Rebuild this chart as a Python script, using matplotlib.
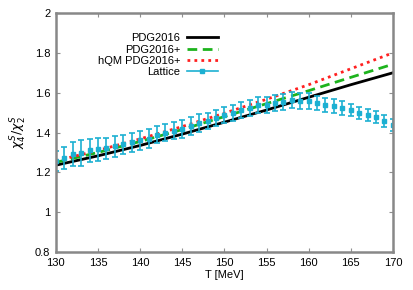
import matplotlib.pyplot as plt
from matplotlib.lines import Line2D

# theory curves (HRG)
T_hrg = [130, 135, 140, 145, 150, 155, 160, 165, 170]
pdg2016 = [1.236, 1.283, 1.335, 1.392, 1.452, 1.513, 1.577, 1.640, 1.700]
pdg2016p = [1.250, 1.300, 1.355, 1.415, 1.480, 1.545, 1.610, 1.677, 1.743]
hqm = [1.258, 1.310, 1.368, 1.430, 1.497, 1.567, 1.640, 1.720, 1.800]

# lattice data
T_lat = list(range(130, 171))
lat = [1.257, 1.273, 1.290, 1.298, 1.310, 1.315, 1.320, 1.330, 1.340, 1.350,
       1.360, 1.370, 1.390, 1.400, 1.410, 1.420, 1.435, 1.450, 1.460, 1.475,
       1.490, 1.500, 1.515, 1.525, 1.540, 1.540, 1.548, 1.555, 1.565, 1.560,
       1.557, 1.548, 1.540, 1.535, 1.523, 1.515, 1.500, 1.490, 1.477, 1.460,
       1.440]
lat_err = [0.05, 0.055, 0.06, 0.065, 0.06, 0.06, 0.055, 0.055, 0.05, 0.05,
           0.05, 0.05, 0.045, 0.045, 0.045, 0.045, 0.045, 0.045, 0.04, 0.04,
           0.04, 0.04, 0.04, 0.04, 0.04, 0.04, 0.04, 0.04, 0.04, 0.04,
           0.04, 0.035, 0.035, 0.035, 0.035, 0.03, 0.03, 0.03, 0.03, 0.03,
           0.03]

c_lat = '#1cb0d2'
plt.rcParams['font.family'] = ['Liberation Sans', 'DejaVu Sans']
plt.rcParams['font.size'] = 8
plt.rcParams['mathtext.fontset'] = 'dejavusans'

fig = plt.figure(figsize=(4.14, 2.90), dpi=100)
ax = fig.add_axes([0.135, 0.131, 0.814, 0.824])

ax.plot(T_hrg, pdg2016, color='black', lw=2)
ax.plot(T_hrg, pdg2016p, color='#1db31d', lw=2, ls=(0, (3.5, 2)))
ax.plot(T_hrg, hqm, color='#ff2020', lw=2, ls=(0, (1, 1.5)))
ax.errorbar(T_lat, lat, yerr=lat_err, fmt='s', color=c_lat, ms=3.5,
            elinewidth=1.2, capsize=2, capthick=1.2)

ax.set_xlim(130, 170)
ax.set_ylim(0.8, 2.0)
ax.set_xticks(range(130, 171, 5))
ax.set_yticks([0.8, 1.0, 1.2, 1.4, 1.6, 1.8, 2.0])
ax.set_yticklabels(['0.8', '1', '1.2', '1.4', '1.6', '1.8', '2'])
ax.tick_params(direction='in', length=3, color='#909090', top=True, right=True,
               labelsize=8, pad=4)
for s in ax.spines.values():
    s.set_color('#888888')
    s.set_linewidth(1.8)

ax.set_xlabel('T [MeV]', labelpad=2)
ax.set_ylabel(r'$\chi_4^S/\chi_2^S$', labelpad=4, fontsize=9)

# gnuplot-style key: labels right-aligned, sample to the right
labels = ['PDG2016', 'PDG2016+', 'hQM PDG2016+', 'Lattice']
handles = [Line2D([], [], color='black', lw=2),
           Line2D([], [], color='#1db31d', lw=2, ls=(0, (3.5, 2))),
           Line2D([], [], color='#ff2020', lw=2, ls=(0, (1, 1.5))),
           Line2D([], [], color=c_lat, lw=1.2, marker='s', ms=3.5)]
ax.legend(handles, labels, loc='upper right', bbox_to_anchor=(0.481, 0.915),
          frameon=False, markerfirst=False, handlelength=2.8,
          borderpad=0, borderaxespad=0,
          labelspacing=0.12, handletextpad=0.6, fontsize=8)

fig.savefig('out.png', dpi=100)
